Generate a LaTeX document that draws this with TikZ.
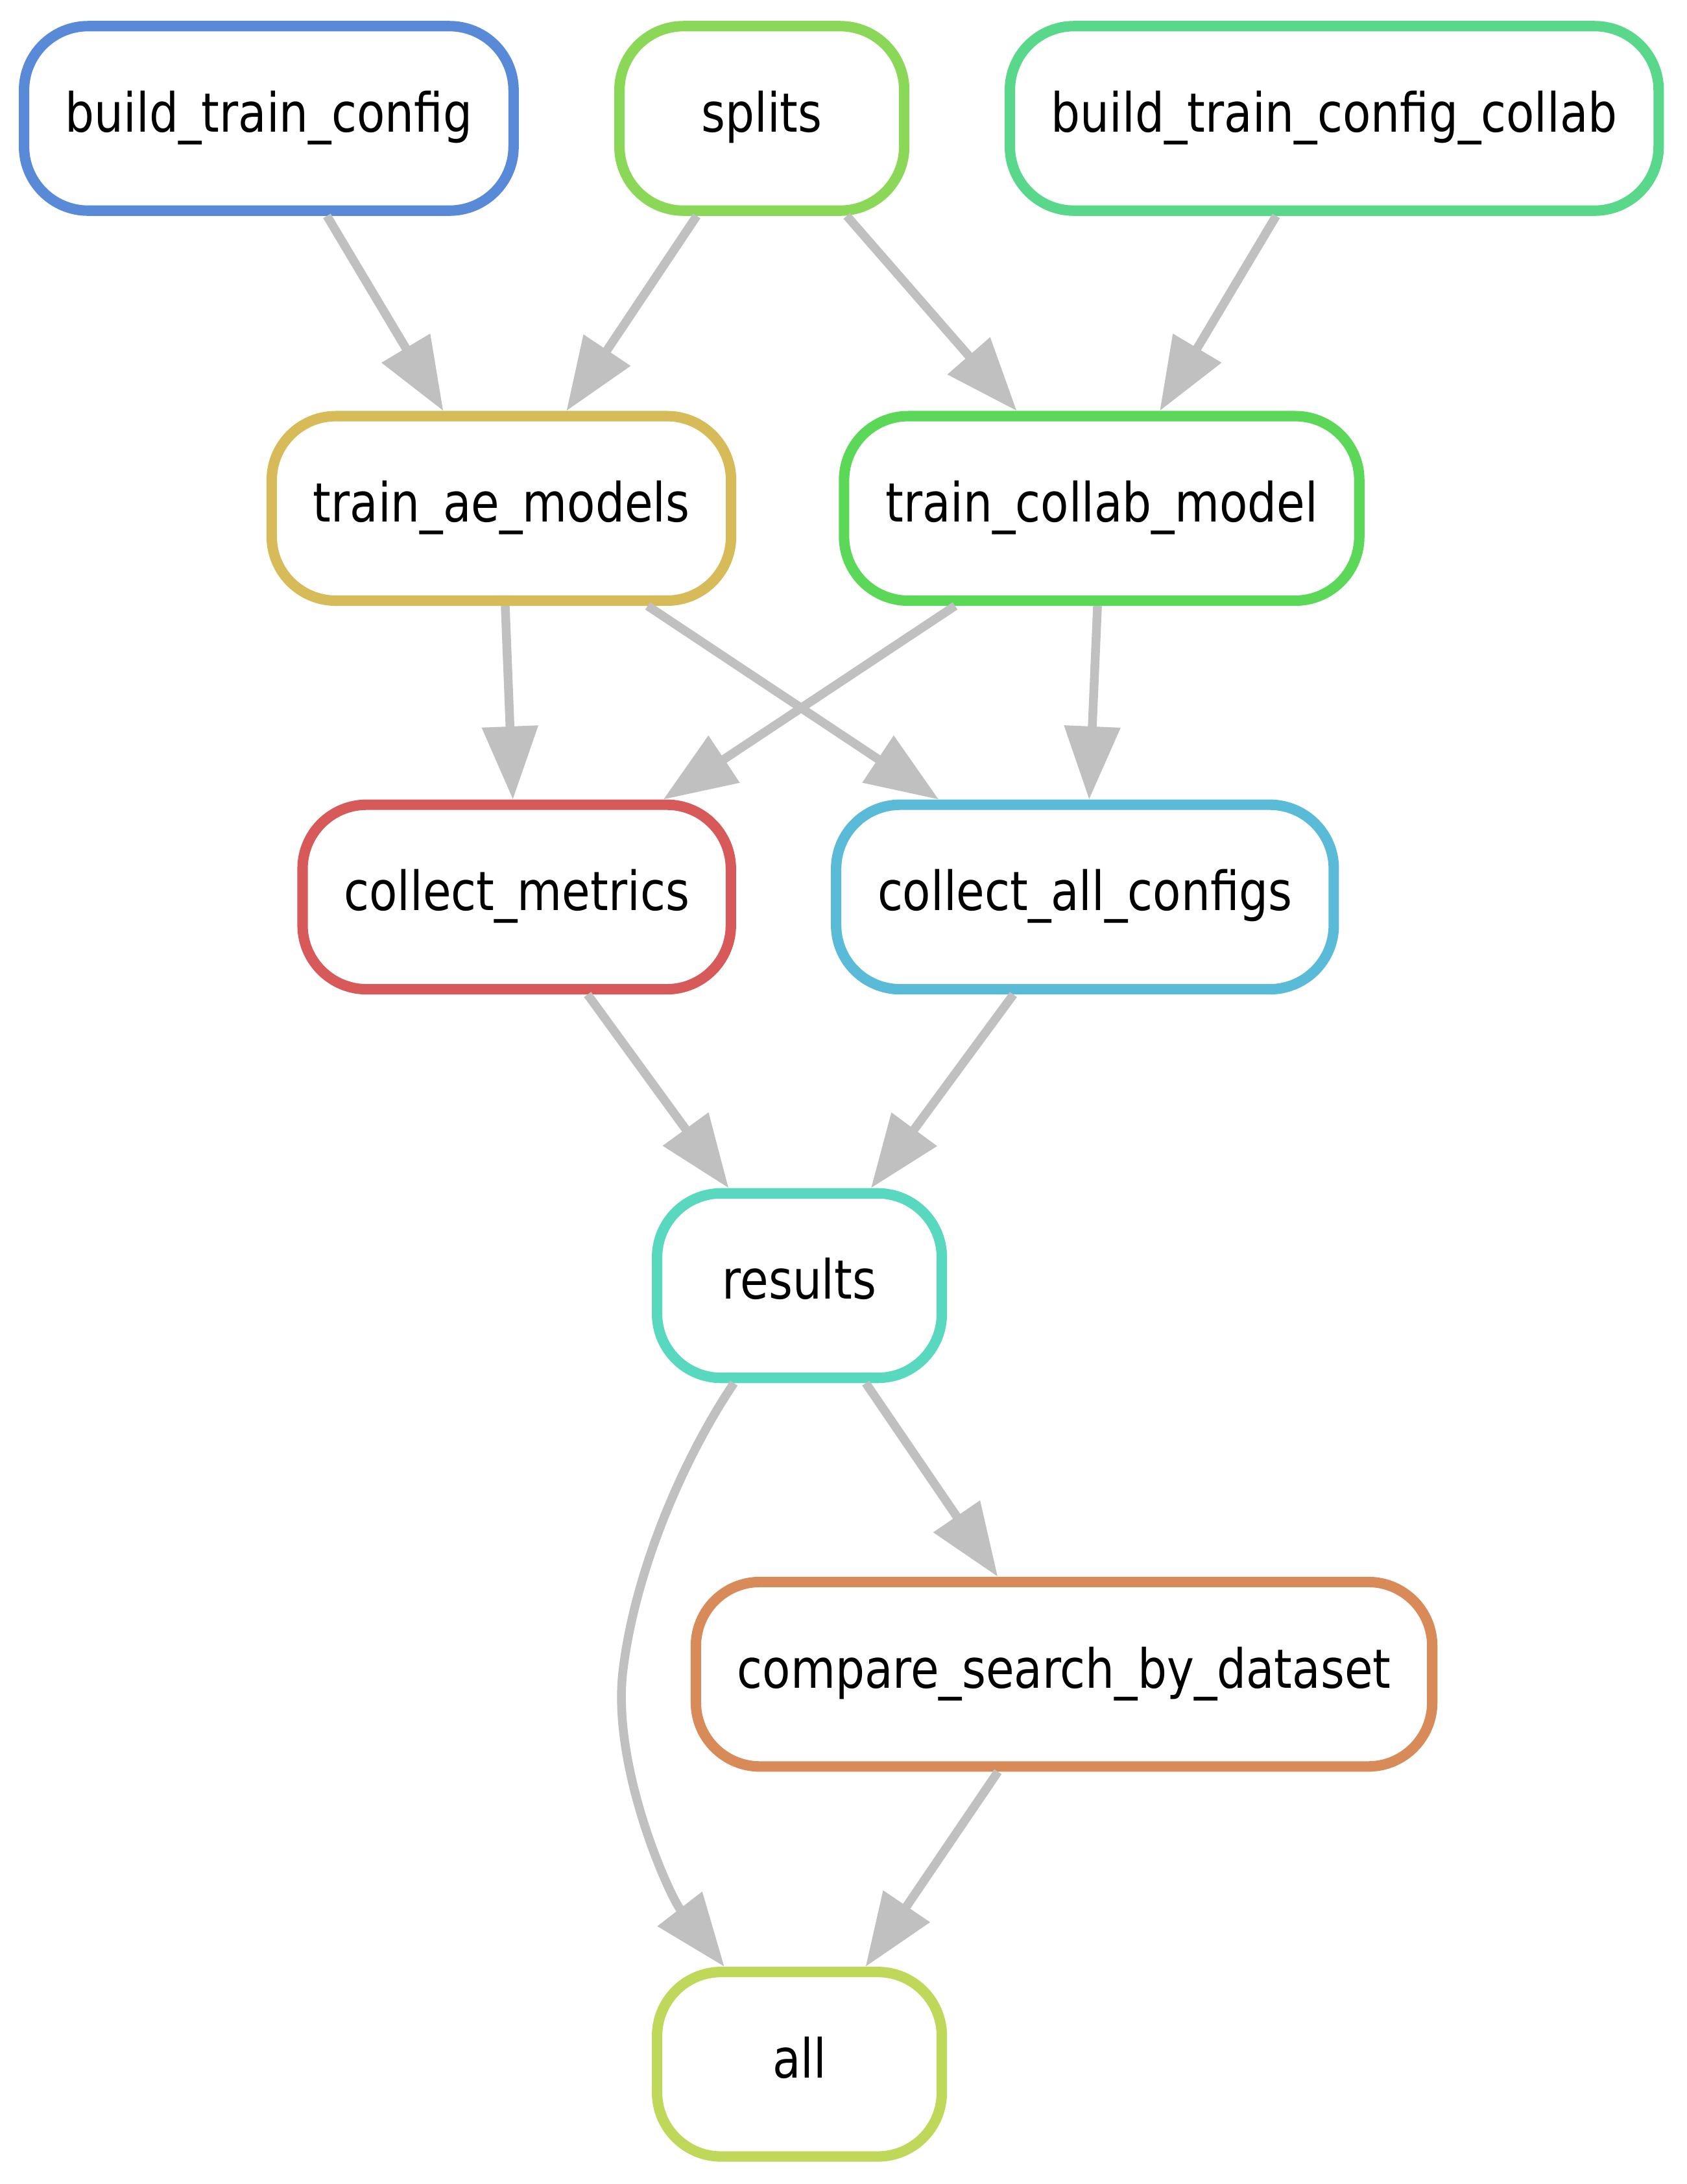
\documentclass[tikz,border=0pt]{standalone}
\usepackage{fontspec}
\setmainfont{DejaVu Sans}
\newfontfamily\rulefont[FakeStretch=0.85]{DejaVu Sans}
\usepackage{tikz}
\usetikzlibrary{positioning}
\usetikzlibrary{arrows.meta}

\begin{document}
\begin{tikzpicture}[x={(0.02cm,0cm)}, y={(0cm,-0.02cm)},
    %Option for big filled arrows
    >={Triangle[length=1.05cm, width=0.78cm]}, %
    rulebox/.style={draw=#1, fill=white, line width=0.15cm, rounded corners=0.92cm,
        minimum width=4.09cm, minimum height=2.65cm, inner xsep=0.595cm,
        text height=16.6pt, text depth=5.5pt,
        font=\rulefont\fontsize{22.1pt}{26pt}\selectfont},
    dep/.style={->, color=edgegray, line width=0.126cm},
]
    % Colors
    \definecolor{edgegray}{HTML}{C0C0C0}
    \definecolor{cbuild}{HTML}{598AD8}
    \definecolor{csplits}{HTML}{8BD859}
    \definecolor{ccollab}{HTML}{59D88B}
    \definecolor{cae}{HTML}{D8BB59}
    \definecolor{ctrain}{HTML}{5CD859}
    \definecolor{cmetrics}{HTML}{D85959}
    \definecolor{cconfigs}{HTML}{59BBD8}
    \definecolor{cresults}{HTML}{59D8C0}
    \definecolor{ccompare}{HTML}{D88B59}
    \definecolor{call}{HTML}{C0D859}

    % Frame
    \useasboundingbox (0,0) rectangle (1211,1568);

    % Rules
    \node[rulebox=cbuild]   (build)   at (193,85)   {build\_train\_config};
    \node[rulebox=csplits]  (splits)  at (547,85)   {splits};
    \node[rulebox=ccollab]  (buildcollab) at (958,85) {build\_train\_config\_collab};

    \node[rulebox=cae]      (trainae)     at (360,365) {train\_ae\_models};
    \node[rulebox=ctrain]   (traincollab) at (791,365) {train\_collab\_model};

    \node[rulebox=cmetrics] (metrics) at (371,644) {collect\_metrics};
    \node[rulebox=cconfigs] (configs) at (779,644) {collect\_all\_configs};

    \node[rulebox=cresults] (results) at (574,923)  {results};
    \node[rulebox=ccompare] (compare) at (764,1202) {compare\_search\_by\_dataset};
    \node[rulebox=call]     (all)     at (574,1482) {all};

    % Dependencies
    \draw[dep] (build) -- (trainae);
    \draw[dep] (splits) -- (trainae);
    \draw[dep] (splits) -- (traincollab);
    \draw[dep] (buildcollab) -- (traincollab);

    \draw[dep] (trainae) -- (metrics);
    \draw[dep] (trainae) -- (configs);
    \draw[dep] (traincollab) -- (metrics);
    \draw[dep] (traincollab) -- (configs);

    \draw[dep] (metrics) -- (results);
    \draw[dep] (configs) -- (results);

    \draw[dep] (results) -- (compare);
    \draw[dep] (compare) -- (all);

    %Long edge round the left of compare
    \coordinate (bend) at (447,1202);
    \draw[dep] (results) .. controls (490,1048) and (455,1130) .. (bend)
        .. controls (440,1270) and (480,1360) .. (all);

\end{tikzpicture}
\end{document}
